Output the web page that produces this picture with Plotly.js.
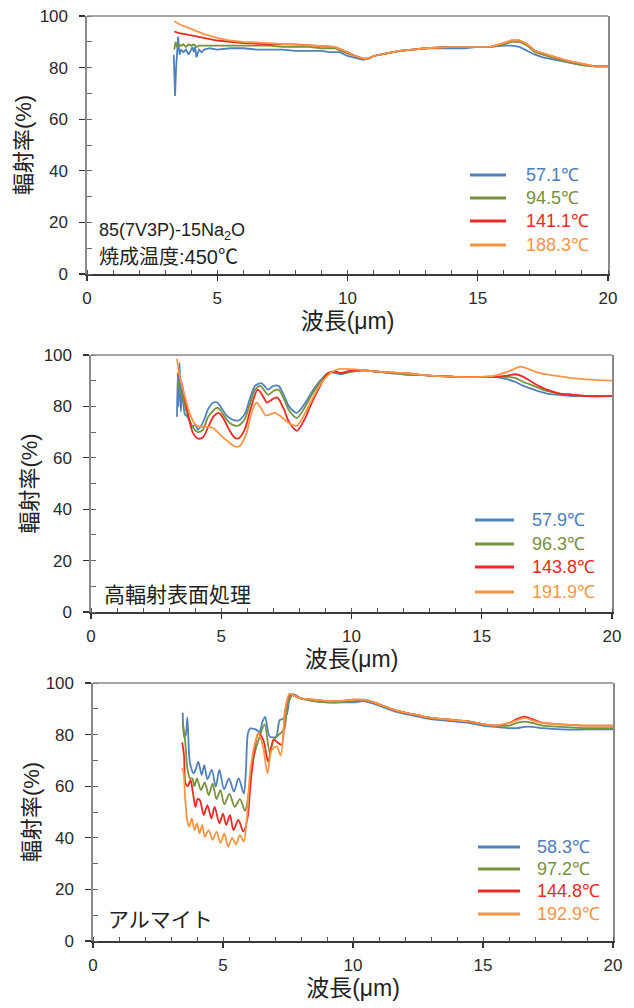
<!DOCTYPE html>
<html>
<head>
<meta charset="utf-8">
<script src="https://cdn.plot.ly/plotly-3.0.1.min.js"></script>
<style>html,body{margin:0;padding:0;background:#fff;}#chart{width:634px;height:1008px;}</style>
</head>
<body>
<div id="chart"></div>
<script>
// ---------- Panel 1: 85(7V3P)-15Na2O ----------
const p1Names = ["57.1℃", "94.5℃", "141.1℃", "188.3℃"];
const p1BlueX = [3.33,3.36,3.38,3.42,3.46,3.5,3.53,3.56,3.6,3.7,3.8,3.9,4.0,4.05,4.1,4.15,4.2,4.25,4.3,4.4,4.5,4.7,5,5.5,6,6.5,7,7.5,8,8.5,9,9.3,9.7,10,10.2,10.4,10.6,10.8,11,11.5,12,12.5,13,13.5,14,14.5,15,15.5,16,16.3,16.6,16.9,17.2,17.5,18,18.5,19,19.5,20];
const p1BlueY = [85,72,69,80,86,92,87,85,87,86,87,85,87,88,86,88,84,86,87,86,87,87.5,87,87.5,87.5,87,87,87,86.5,86.5,86.5,86,86,84.5,84,83.5,83,83.5,84.5,85.5,86.5,87,87.5,87.5,87.5,87.5,88,88,88.5,88.5,88,86.5,85,84,83,82,81,80.5,80.5];
const p1GreenX = [3.35,3.4,3.45,3.5,3.6,3.7,3.8,3.9,4.0,4.1,4.2,4.3,4.5,5,5.5,6,6.5,7,7.5,8,8.5,9,9.5,10,10.3,10.6,10.8,11,11.5,12,12.5,13,14,15,15.5,16,16.3,16.6,16.9,17.2,17.5,18,18.5,19,19.5,20];
const p1GreenY = [87,90,88,89,88.5,89,88,89,88.5,89,88,88.5,88.5,88.5,88.5,88.5,88.5,88.5,88,88,88,87.5,87.5,85.5,84.5,83.5,83.5,84.5,85.5,86.5,87,87.5,88,88,88,89,90,90,88.5,86,85,83.5,82,81,80.5,80.5];
const p1RedX = [3.35,3.5,4,4.5,5,6,7,8,9,9.5,10,10.3,10.6,10.8,11,11.5,12,12.5,13,14,15,15.5,16,16.3,16.6,16.9,17.2,17.5,18,18.5,19,19.5,20];
const p1RedY = [94,93.5,92.5,91.5,90.5,89.5,89,89,88.5,88,86,84.5,83.5,83.5,84.5,85.5,86.5,87,87.5,88,88,88,89.5,90.5,90.5,89,86.5,85.5,84,82.5,81.5,80.5,80.5];
const p1OrangeX = [3.35,3.6,4,4.5,5,5.5,6,7,8,9,9.5,10,10.3,10.6,10.8,11,11.5,12,12.5,13,14,15,15.5,16,16.3,16.6,16.9,17.2,17.5,18,18.5,19,19.5,20];
const p1OrangeY = [98,96.5,95,93,91.5,90.5,90,89.5,89,88.5,88,86,84.5,83.5,83.5,84.5,85.5,86.5,87,87.5,88,88,88,89.5,90.5,90.5,89,86.5,85.5,84,82.5,81.5,80.5,80.5];

// ---------- Panel 2: 高輻射表面処理 ----------
const p2Names = ["57.9℃", "96.3℃", "143.8℃", "191.9℃"];
const p2BlueX = [3.3,3.33,3.36,3.4,3.45,3.5,3.6,3.7,3.8,3.9,4.0,4.1,4.2,4.35,4.5,4.7,4.85,5.0,5.2,5.4,5.65,5.9,6.1,6.3,6.55,6.8,7.0,7.2,7.4,7.6,7.9,8.2,8.5,8.8,9.1,9.4,9.6,10,10.5,11,11.5,12,13,14,15,15.5,16,16.3,16.6,17,17.5,18,18.5,19,20];
const p2BlueY = [76,93,80,97,78,88,77,76,74,72,73,71,72,75,79,81.5,81.5,79.5,76.5,75,74.5,77,83,88,89,86.5,88,88,84.5,80,77.5,81,86,90,93,93,92.5,93.5,94,93.5,93,92.5,92,91.5,91.5,91.5,90.5,89.5,88,86.5,85,84.5,84,84,84];
const p2GreenX = [3.35,3.4,3.5,3.7,3.9,4.1,4.3,4.5,4.85,5.0,5.2,5.4,5.65,5.9,6.1,6.3,6.5,6.8,7.0,7.2,7.4,7.6,7.9,8.2,8.5,8.8,9.1,9.4,9.6,10,10.5,11,11.5,12,13,14,15,15.5,16,16.3,16.6,17,17.5,18,18.5,19,20];
const p2GreenY = [90,86,84,77,72,70,71,76,79.5,78,75,73,72.5,75,81,86.5,88,84.5,86,86.5,83,78.5,75.5,79.5,85,89.5,93,93.5,93,93.5,94,93.5,93,92.5,92,91.5,91.5,91.5,91.5,91,89.5,88,86,85,84.5,84,84];
const p2RedX = [3.35,3.5,3.7,3.9,4.1,4.3,4.5,4.7,4.9,5.1,5.3,5.5,5.65,5.9,6.1,6.4,6.6,6.75,7.0,7.15,7.4,7.6,7.9,8.2,8.5,8.8,9.05,9.3,9.6,10,10.5,11,12,13,14,15,15.5,16,16.3,16.6,17,17.5,18,18.5,19,20];
const p2RedY = [93,88,78,70,67.5,68,72,76,77.5,75,71,68,67.5,71,78,86.5,84,81.5,83,83.5,79,74,70.5,75,82,88,92.5,93.5,93,94,94,93.5,93,92,91.5,91.5,91.5,92,92.5,91.5,89,86.5,85,84.5,84,84];
const p2OrangeX = [3.3,3.4,3.6,3.8,4.0,4.2,4.5,4.7,5.0,5.3,5.5,5.7,5.95,6.15,6.35,6.55,6.7,6.9,7.05,7.3,7.6,7.9,8.2,8.5,8.8,9.2,9.5,10,10.5,11,12,13,14,15,15.5,16,16.5,16.8,17.2,17.8,18.5,19,20];
const p2OrangeY = [98.5,92,84,77,73,72,72,71.5,68.5,66,64.5,64.5,69,77,81.5,79,76.5,77,77.5,76,73.5,72.5,77,83,88.5,93,94.5,94.5,94,93.5,93,92,91.5,91.5,92,93.5,95.5,94.5,93,92,91,90.5,90];

// ---------- Panel 3: アルマイト ----------
const p3Names = ["58.3℃", "97.2℃", "144.8℃", "192.9℃"];
const p3BlueX = [3.45,3.51,3.57,3.63,3.7,3.76,3.86,3.95,4.05,4.18,4.28,4.4,4.57,4.72,4.86,5.04,5.23,5.42,5.6,5.8,5.88,5.96,6.05,6.25,6.4,6.52,6.62,6.8,7.04,7.18,7.34,7.46,7.6,7.75,8,8.5,9,9.5,10,10.4,10.8,11.2,11.6,12,12.5,13,13.5,14,14.5,15,15.5,16,16.3,16.6,16.9,17.3,18,19,20];
const p3BlueY = [88.5,79,80,86.7,71.5,67.6,65,66.5,69.5,64.4,68.2,62.7,66.3,59.8,66.3,58.8,63,57.9,63.1,57.2,66,80.5,82.4,82,81.1,85,86.9,79.2,79.2,85.6,86.3,88,95.3,95.5,94,93,92.5,92.5,92.5,93,92,90.5,89,88,87,86,85.5,85,84.5,83.5,83,82.5,82.5,83,83,82.5,82,82,82];
const p3GreenX = [3.45,3.54,3.63,3.73,3.82,3.9,4.0,4.15,4.3,4.45,4.6,4.75,4.9,5.05,5.25,5.45,5.65,5.85,6.0,6.2,6.4,6.6,6.8,6.95,7.15,7.35,7.5,7.7,8,8.5,9,9.5,10,10.4,10.8,11.2,11.6,12,12.5,13,13.5,14,14.5,15,15.5,16,16.3,16.6,16.9,17.3,18,19,20];
const p3GreenY = [85,77.9,67,63.1,63,60,63,58.5,61.5,56.5,61,55,58.5,53,57,52,55,50.5,58,72,79,84,73,78,80,82,92,95.5,94,93,92.5,92.5,93,93.5,92.5,91,89.5,88.5,87.5,86.5,86,85.5,85,84,83.5,83.5,84.5,85,84.5,83.5,83,82.5,82.5];
const p3RedX = [3.43,3.5,3.56,3.65,3.75,3.85,3.94,4.02,4.11,4.26,4.4,4.55,4.68,4.86,5.0,5.12,5.27,5.4,5.59,5.78,5.95,6.05,6.17,6.36,6.55,6.74,6.94,7.13,7.26,7.39,7.58,7.75,8,8.5,9,9.5,10,10.4,10.8,11.2,11.6,12,12.5,13,13.5,14,14.5,15,15.5,16,16.3,16.6,16.9,17.3,18,19,20];
const p3RedY = [77,72,61,60,62.4,57,52,55,54.6,48.8,52.7,47.5,52,45.6,49.4,45,48.8,43,46.9,42.4,48,60,71.5,80.5,78,69.5,78,76.7,76,89.5,95.7,95,94,93.5,93,93,93.5,93.5,92.5,91,89.5,88.5,87.5,86.5,86,85.5,85,84,83.5,84.5,86,87,86,84.5,84,83.5,83.5];
const p3OrangeX = [3.41,3.47,3.54,3.62,3.7,3.8,3.9,4.0,4.1,4.2,4.3,4.45,4.6,4.75,4.9,5.05,5.2,5.35,5.5,5.65,5.8,5.9,6.04,6.23,6.36,6.55,6.71,6.87,7.06,7.22,7.39,7.55,7.75,8,8.5,9,9.5,10,10.4,10.8,11.2,11.6,12,12.5,13,13.5,14,14.5,15,15.5,16,16.3,16.6,16.9,17.3,18,19,20];
const p3OrangeY = [66.9,66,55.9,47,44.3,47.5,43,45.6,41.7,45,40.4,43,39.2,42.4,38,41.7,36.6,40,37.5,41,38.5,45.6,65,76.7,80.5,75,65,74,75.4,72,89.5,95.7,95,94,93.5,93,93,93.5,93.5,92.5,91,89.5,88.5,87.5,86.5,86,85.5,85,84,83.5,84.5,85.5,86.5,85.5,84.5,84,83.5,83.5];

const seriesColors = ["#4f81bd", "#77933c", "#ee2a24", "#f79646"];
const textColors   = ["#4a7ebb", "#76923c", "#ee2a24", "#f79646"];

const panels = [
  {xs: [p1BlueX, p1GreenX, p1RedX, p1OrangeX], ys: [p1BlueY, p1GreenY, p1RedY, p1OrangeY], names: p1Names, xa: "x", ya: "y", shape: "linear"},
  {xs: [p2BlueX, p2GreenX, p2RedX, p2OrangeX], ys: [p2BlueY, p2GreenY, p2RedY, p2OrangeY], names: p2Names, xa: "x2", ya: "y2", shape: "spline"},
  {xs: [p3BlueX, p3GreenX, p3RedX, p3OrangeX], ys: [p3BlueY, p3GreenY, p3RedY, p3OrangeY], names: p3Names, xa: "x3", ya: "y3", shape: "spline"}
];

const traces = [];
panels.forEach(p => {
  for (let i = 0; i < 4; i++) {
    traces.push({
      type: "scatter", mode: "lines",
      x: p.xs[i], y: p.ys[i], name: p.names[i],
      xaxis: p.xa, yaxis: p.ya, showlegend: false,
      line: {color: seriesColors[i], width: 1.8, shape: p.shape, smoothing: 0.8}
    });
  }
});

const W = 634, H = 1008;
const px = v => v / W;
const py = v => 1 - v / H;

const tickFont = {family: "Liberation Sans, Arial, sans-serif", size: 17, color: "#2a2a2a"};
const titleFontY = {family: "Liberation Sans, Noto Sans CJK JP, sans-serif", size: 22, color: "#222"};
const titleFontX = {family: "Liberation Sans, Noto Sans CJK JP, sans-serif", size: 23, color: "#222"};

function xAxis(domain, anchor) {
  return {
    domain: domain, anchor: anchor, range: [0, 20], autorange: false,
    tickvals: [0, 5, 10, 15, 20], ticks: "outside", ticklen: 5, tickwidth: 1.2, tickcolor: "#333",
    ticklabelstandoff: 3,
    minor: {dtick: 1, tick0: 0, ticks: "inside", ticklen: 4, tickcolor: "#555", tickwidth: 1},
    showline: true, linecolor: "#3a3a3a", linewidth: 1.6, mirror: false,
    showgrid: false, zeroline: false, tickfont: tickFont,
    title: {text: "波長(μm)", font: titleFontX, standoff: 2}
  };
}
function yAxis(domain, anchor, standoff) {
  return {
    domain: domain, anchor: anchor, range: [0, 100], autorange: false,
    tickvals: [0, 20, 40, 60, 80, 100], ticks: "outside", ticklen: 6, tickwidth: 1.2, tickcolor: "#333",
    ticklabelstandoff: 8,
    minor: {dtick: 10, tick0: 0, ticks: "inside", ticklen: 5, tickcolor: "#666", tickwidth: 1},
    showline: true, linecolor: "#8a8a8a", linewidth: 1.6, mirror: true,
    showgrid: false, zeroline: false, tickfont: tickFont,
    title: {text: "輻射率(%)", font: titleFontY, standoff: standoff}
  };
}

// legend positions (pixel rows) per panel
const legendSpec = [
  {x0: 470, x1: 506, tx: 524, rows: [175, 198, 221, 245], names: p1Names},
  {x0: 475, x1: 514, tx: 530, rows: [520, 544, 567, 592], names: p2Names},
  {x0: 478, x1: 520, tx: 535, rows: [847, 869, 891, 914], names: p3Names}
];
const shapes = [];
const annotations = [];
[["x", "y"], ["x2", "y2"], ["x3", "y3"]].forEach(([xa, ya]) => {
  shapes.push({type: "line", xref: xa + " domain", yref: ya + " domain", x0: 0, x1: 1, y0: 1, y1: 1, line: {color: "#8a8a8a", width: 1.6}});
});
legendSpec.forEach(L => {
  for (let i = 0; i < 4; i++) {
    shapes.push({type: "line", xref: "paper", yref: "paper", x0: px(L.x0), x1: px(L.x1), y0: py(L.rows[i]), y1: py(L.rows[i]), line: {color: seriesColors[i], width: 3}});
    annotations.push({xref: "paper", yref: "paper", x: px(L.tx), y: py(L.rows[i]), xanchor: "left", yanchor: "middle", showarrow: false, text: L.names[i], font: {family: "Liberation Sans, Arial, sans-serif", size: 18, color: textColors[i]}});
  }
});
annotations.push({xref: "paper", yref: "paper", x: px(97), y: py(232), xanchor: "left", yanchor: "middle", showarrow: false, text: "85(7V3P)-15Na<sub>2</sub>O", font: {family: "Liberation Sans, Noto Sans CJK JP, sans-serif", size: 18, color: "#222"}});
annotations.push({xref: "paper", yref: "paper", x: px(97), y: py(257), xanchor: "left", yanchor: "middle", showarrow: false, text: "焼成温度:450℃", font: {family: "Liberation Sans, Noto Sans CJK JP, sans-serif", size: 20, color: "#222"}});
annotations.push({xref: "paper", yref: "paper", x: px(102), y: py(593), xanchor: "left", yanchor: "middle", showarrow: false, text: "高輻射表面処理", font: {family: "Noto Sans CJK JP, sans-serif", size: 21, color: "#222"}});
annotations.push({xref: "paper", yref: "paper", x: px(106), y: py(918), xanchor: "left", yanchor: "middle", showarrow: false, text: "アルマイト", font: {family: "Noto Sans CJK JP, sans-serif", size: 21, color: "#222"}});

const layout = {
  width: W, height: H,
  margin: {l: 0, r: 0, t: 0, b: 0},
  paper_bgcolor: "#fff", plot_bgcolor: "#fff",
  showlegend: false,
  xaxis:  xAxis([px(87), px(608)], "y"),
  yaxis:  yAxis([py(274), py(16)], "x", 2),
  xaxis2: xAxis([px(91), px(612)], "y2"),
  yaxis2: yAxis([py(612), py(355)], "x2", 0),
  xaxis3: xAxis([px(93), px(613)], "y3"),
  yaxis3: yAxis([py(941), py(683)], "x3", 0),
  shapes: shapes,
  annotations: annotations
};

Plotly.newPlot("chart", traces, layout, {displayModeBar: false, staticPlot: true});
</script>
</body>
</html>
